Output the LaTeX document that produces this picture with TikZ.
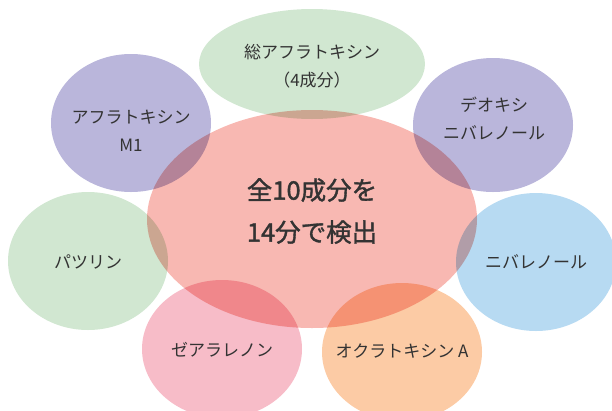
\documentclass[tikz,border=0pt]{standalone}
\usepackage{fontspec}
\newfontfamily\jpfont{Noto Sans CJK JP}
\newfontfamily\jpheavy{Noto Sans CJK JP}[FakeBold=1.4]
\usetikzlibrary{shapes.geometric}
\definecolor{coreRed}{HTML}{F8B8B2}
\definecolor{leafGreen}{HTML}{D1E7D1}
\definecolor{leafPurple}{HTML}{BAB6DB}
\definecolor{leafBlue}{HTML}{B7DAF2}
\definecolor{leafPink}{HTML}{F7BCC8}
\definecolor{leafOrange}{HTML}{FCCBA5}
\definecolor{labelGray}{HTML}{333333}

\begin{document}
\begin{tikzpicture}[x=1pt, y=-1pt,
  every node/.style={text=labelGray, align=center},
  blob/.style={ellipse, inner sep=0pt, minimum width=160pt, minimum height=138pt},
  tag/.style={font=\jpfont\fontsize{17}{28}\selectfont},
  core/.style={ellipse, inner sep=0pt, minimum width=330pt, minimum height=218pt,
    fill=coreRed},
  coretag/.style={font=\jpheavy\fontsize{25.5}{42}\selectfont},
]
  \clip (0,0) rectangle (612,410);

  \begin{scope}[blend mode=multiply]
% outer ring
  \node[blob, fill=leafGreen, minimum width=226pt, minimum height=110pt] (total) at (312,64) {};
  \node[blob, fill=leafPurple] (afm1) at (131,123) {};
  \node[blob, fill=leafPurple, minimum height=134pt] (don) at (493,125) {};
  \node[blob, fill=leafGreen] (patulin) at (88,261) {};
  \node[blob, fill=leafBlue] (niv) at (536,262) {};

% center
  \node[core] (all) at (312,219) {};

% bottom pair
  \node[blob, fill=leafPink] (zea) at (222,349) {};
  \node[blob, fill=leafOrange] (ota) at (402,352) {};
  \end{scope}

% labels
  \node[tag] (total-txt) at (312,66) {総アフラトキシン\\（4成分）};
  \node[tag] (afm1-txt) at (131,131) {アフラトキシン\\M1};
  \node[tag] (don-txt) at (494,118) {デオキシ\\ニバレノール};
  \node[tag] (patulin-txt) at (88,262) {パツリン};
  \node[tag] (niv-txt) at (536,262) {ニバレノール};
  \node[tag] (zea-txt) at (222,350) {ゼアラレノン};
  \node[tag] (ota-txt) at (402,351) {オクラトキシン A};
  \node[coretag] (all-txt) at (312,211) {全10成分を\\14分で検出};
\end{tikzpicture}
\end{document}
